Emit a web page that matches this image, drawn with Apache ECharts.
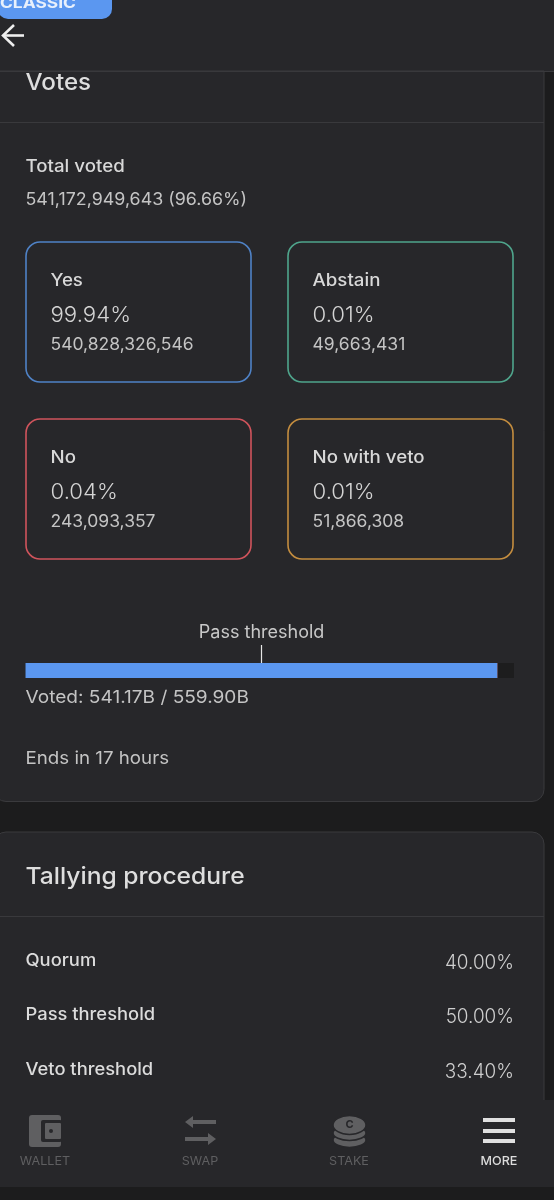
<!DOCTYPE html>
<html><head><meta charset="utf-8">
<style>html,body{margin:0;padding:0;background:#1c1c1d}#c{width:554px;height:1200px}</style>
<script src="https://cdn.jsdelivr.net/npm/echarts@6/dist/echarts.min.js"></script>
</head><body><div id="c"></div>
<script>
const FONT = 'Inter, "Noto Sans", sans-serif';
// Vote data (billions for the bar; text as printed)
const voteNames = ['Yes', 'Abstain', 'No', 'No with veto'];
const votePercents = ['99.94%', '0.01%', '0.04%', '0.01%'];
const voteAmounts = ['540,828,326,546', '49,663,431', '243,093,357', '51,866,308'];
const voteColors = ['#4f82c6', '#4fa58c', '#d0545c', '#c48d3f'];
const barYes = [540.83];
const barNo = [0.243];
const barAbstain = [0.0497];
const barVeto = [0.0519];
const barMax = 559.90;
const passThreshold = 270.585;
const tallyNames = ['Quorum', 'Pass threshold', 'Veto threshold'];
const tallyValues = ['40.00%', '50.00%', '33.40%'];
const navNames = ['WALLET', 'SWAP', 'STAKE', 'MORE'];

const chart = echarts.init(document.getElementById('c'), null, {width: 554, height: 1200});
const g = [];
const rect = (x, y, w, h, fill, r, stroke, lw) => g.push({type: 'rect', shape: {x, y, width: w, height: h, r: r || 0},
  style: {fill: fill || 'transparent', stroke: stroke || null, lineWidth: lw || 0}, silent: true});
const text = (t, x, y, size, color, weight, sx, align) => g.push({type: 'text', x, y, scaleX: sx || 1, silent: true, z: 5,
  style: {text: t, fill: color, font: (weight || 400) + ' ' + size + 'px ' + FONT, textAlign: align || 'left', textVerticalAlign: 'middle'}});
const poly = (pts, fill) => g.push({type: 'polygon', shape: {points: pts}, style: {fill}, silent: true});

const CARD = '#27272a', LINE = '#39393c';
// Header
rect(0, 0, 554, 72, CARD);
rect(-2, -20, 114, 39, '#5b97f0', 10);
text('CLASSIC', 0, 4, 14.5, '#e8f0fc', 700, 1.2);
g.push({type: 'polyline', shape: {points: [[14, 25], [3, 35.5], [14, 46]]}, style: {stroke: '#eeeeee', lineWidth: 2.6, fill: null}, silent: true});
g.push({type: 'line', shape: {x1: 3, y1: 35.5, x2: 24, y2: 35.5}, style: {stroke: '#eeeeee', lineWidth: 2.6}, silent: true});
// Votes card
rect(-6, 71, 550, 730.5, CARD, [0, 0, 12, 12], '#3a3a3d', 1);
rect(0, 71, 554, 1, LINE);
rect(0, 122, 544, 1, LINE);
text('Votes', 25.5, 83, 23, '#dedede', 500, 1.05);
text('Total voted', 25.5, 167, 17, '#d8d8d8', 500, 1.1);
text('541,172,949,643 (96.66%)', 25.5, 200, 17, '#c4c4c4', 400, 1.05);
// Cards
voteNames.forEach((n, i) => {
  const x = i % 2 ? 288 : 26, y = i < 2 ? 242 : 419;
  rect(x, y, 225, 140, null, 14, voteColors[i], 1.6);
  text(n, x + 24.5, y + 39, 17, '#d8d8d8', 500, 1.1);
  text(votePercents[i], x + 24.5, y + 73, 22, '#d4d4d4', 300, 1.01);
  text(voteAmounts[i], x + 24.5, y + 103, 17, '#c4c4c4', 400, 1.03);
});
text('Voted: 541.17B / 559.90B', 25.5, 698, 17.5, '#c4c4c4', 400, 1.09);
text('Ends in 17 hours', 25.5, 759, 17.5, '#c4c4c4', 400, 1.07);
// Tallying card
rect(-6, 832, 550, 300, CARD, 12, '#3a3a3d', 1);
rect(0, 916, 544, 1, LINE);
text('Tallying procedure', 25.5, 877, 23, '#dedede', 500, 1.07);
tallyNames.forEach((n, i) => {
  const y = [961, 1015, 1070][i];
  text(n, 25.5, y, 17, '#dcdcdc', 500, 1.08);
  text(tallyValues[i], 514, y + 2, 19.5, '#cfcfcf', 300, 0.97, 'right');
});
// Bottom nav
rect(0, 1100, 554, 87, CARD);
const NAVC = '#5f5f61';
[45, 200, 349, 499].forEach((cx, i) => text(navNames[i], cx, 1161, 12, i === 3 ? '#dcdcdc' : NAVC, i === 3 ? 500 : 400, 1.05, 'center'));
// wallet icon
rect(29, 1115, 32, 32, NAVC, 3);
rect(41, 1120, 21, 22, CARD, 2);
rect(45, 1123, 16, 16, NAVC, 1);
rect(49, 1129, 4, 4, CARD, 2);
// swap icon
poly([[185, 1122], [193, 1116], [193, 1120], [216, 1120], [216, 1124], [193, 1124], [193, 1128]], NAVC);
poly([[216, 1139], [208, 1133], [208, 1137], [185, 1137], [185, 1141], [208, 1141], [208, 1145]], NAVC);
// stake icon
[1140, 1133].forEach(y => g.push({type: 'ellipse', shape: {cx: 349.5, cy: y, rx: 16.5, ry: 7.5}, style: {fill: NAVC, stroke: CARD, lineWidth: 1.5}, silent: true}));
g.push({type: 'ellipse', shape: {cx: 349.5, cy: 1125, rx: 16.5, ry: 9.5}, style: {fill: NAVC, stroke: CARD, lineWidth: 1.5}, silent: true});
text('C', 349.5, 1125, 11, CARD, 700, 1, 'center');
// more icon
[1120, 1131, 1141].forEach(y => rect(483, y - 2, 32, 4, '#e0e0e0'));

const bar = (name, data, color, extra) => Object.assign({type: 'bar', name, stack: 'v', data, barWidth: '100%', itemStyle: {color}, silent: true}, extra || {});
chart.setOption({
  animation: false,
  backgroundColor: '#1c1c1d',
  graphic: {elements: g},
  grid: {left: 25.5, width: 488.5, top: 663, height: 15, containLabel: false},
  xAxis: {type: 'value', min: 0, max: barMax, show: false},
  yAxis: {type: 'category', data: ['Votes'], show: false},
  series: [
    bar('Yes', barYes, '#5b97f0', {
      showBackground: true, backgroundStyle: {color: '#1d1d1e'},
      markLine: {silent: true, symbol: 'none', animation: false,
        lineStyle: {color: '#e6e6e6', width: 1.2, type: 'solid'},
        label: {show: true, formatter: 'Pass threshold', position: 'start', color: '#c8c8c8',
          fontFamily: FONT, fontSize: 18, distance: 3},
        data: [[{xAxis: passThreshold, y: 645}, {xAxis: passThreshold, y: 663}]]}
    }),
    bar('No', barNo, '#d0545c'),
    bar('Abstain', barAbstain, '#4fa58c'),
    bar('No with veto', barVeto, '#c48d3f')
  ]
});
</script></body></html>
